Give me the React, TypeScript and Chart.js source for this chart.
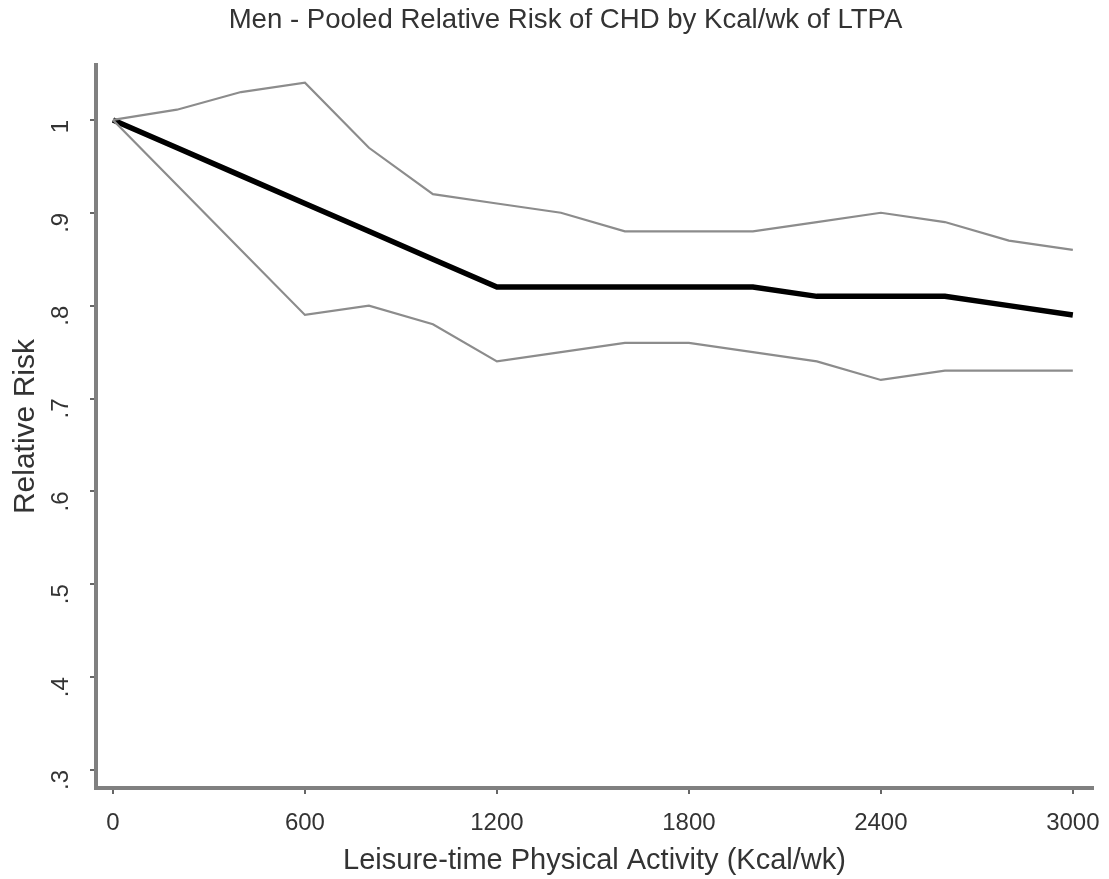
import React, { useEffect, useRef } from "react";
import { Chart, registerables } from "chart.js";

Chart.register(...registerables);

const kcal = [0, 200, 400, 600, 800, 1000, 1200, 1400, 1600, 1800, 2000, 2200, 2400, 2600, 2800, 3000];
const relRisk = [1.0, 0.97, 0.94, 0.91, 0.88, 0.85, 0.82, 0.82, 0.82, 0.82, 0.82, 0.81, 0.81, 0.81, 0.8, 0.79];
const upperCI = [1.0, 1.011, 1.03, 1.04, 0.97, 0.92, 0.91, 0.9, 0.88, 0.88, 0.88, 0.89, 0.9, 0.89, 0.87, 0.86];
const lowerCI = [1.0, 0.93, 0.86, 0.79, 0.8, 0.78, 0.74, 0.75, 0.76, 0.76, 0.75, 0.74, 0.72, 0.73, 0.73, 0.73];
const xTicks = [0, 600, 1200, 1800, 2400, 3000];
const yTicks = [0.3, 0.4, 0.5, 0.6, 0.7, 0.8, 0.9, 1.0];

const FONT = "'Liberation Sans', Arial, sans-serif";

export default function App() {
  const ref = useRef<HTMLCanvasElement | null>(null);

  useEffect(() => {
    if (!ref.current) return;
    const toXY = (arr: number[]) => kcal.map((x, i) => ({ x, y: arr[i] }));
    const chart = new Chart(ref.current, {
      type: "line",
      data: {
        datasets: [
          {
            label: "Upper",
            data: toXY(upperCI),
            borderColor: "#8c8c8c",
            borderWidth: 2.2,
            pointRadius: 0,
            tension: 0,
          },
          {
            label: "Lower",
            data: toXY(lowerCI),
            borderColor: "#8c8c8c",
            borderWidth: 2.2,
            pointRadius: 0,
            tension: 0,
          },
          {
            label: "Relative Risk",
            data: toXY(relRisk),
            borderColor: "#000000",
            borderWidth: 5.5,
            pointRadius: 0,
            tension: 0,
          },
        ],
      },
      options: {
        animation: false,
        responsive: false,
        maintainAspectRatio: false,
        layout: { padding: { left: 38, right: 16, top: 0, bottom: 1 } },
        plugins: {
          legend: { display: false },
          tooltip: { enabled: false },
          title: {
            display: true,
            text: "Men - Pooled Relative Risk of CHD by Kcal/wk of LTPA",
            color: "#333",
            font: { family: FONT, size: 27.6, weight: "normal" },
            padding: { top: 4, bottom: 28 },
          },
        },
        scales: {
          x: {
            type: "linear",
            min: -53,
            max: 3063,
            afterBuildTicks: (s: any) => {
              s.ticks = xTicks.map((v) => ({ value: v }));
            },
            afterFit: (s: any) => {
              s.height = 90;
              s.paddingRight = 0;
              s.paddingLeft = 0;
            },
            ticks: {
              color: "#333",
              font: { family: FONT, size: 24 },
              padding: 15,
              maxRotation: 0,
              minRotation: 0,
              callback: (v: any) => String(v),
            },
            grid: { drawOnChartArea: false, drawTicks: true, tickLength: 6, color: "#666", lineWidth: 2 },
            border: { display: true, color: "#808080", width: 4 },
            title: {
              display: true,
              text: "Leisure-time Physical Activity (Kcal/wk)",
              color: "#333",
              font: { family: FONT, size: 29 },
              padding: { top: 4, bottom: 0 },
            },
          },
          y: {
            type: "linear",
            min: 0.2806,
            max: 1.059,
            afterBuildTicks: (s: any) => {
              s.ticks = yTicks.map((v) => ({ value: v }));
            },
            afterFit: (s: any) => {
              s.width = 58;
              s.paddingTop = 0;
              s.paddingBottom = 0;
            },
            ticks: {
              color: "#333",
              font: { family: FONT, size: 24 },
              padding: 29,
              minRotation: 90,
              maxRotation: 90,
              callback: (v: any) => {
                const n = Math.round(Number(v) * 10) / 10;
                return n === 1 ? "1" : String(n).replace(/^0/, "");
              },
            },
            grid: { drawOnChartArea: false, drawTicks: true, tickLength: 6, color: "#666", lineWidth: 2 },
            border: { display: true, color: "#808080", width: 4 },
            title: {
              display: true,
              text: "Relative Risk",
              color: "#333",
              font: { family: FONT, size: 30 },
              padding: { top: -30, bottom: 0 },
            },
          },
        },
      },
    });
    return () => chart.destroy();
  }, []);

  return (
    <div style={{ position: "absolute", left: 0, top: 0, width: 1109, height: 879, background: "#fff" }}>
      <canvas ref={ref} width={1109} height={879} style={{ display: "block" }} />
    </div>
  );
}
